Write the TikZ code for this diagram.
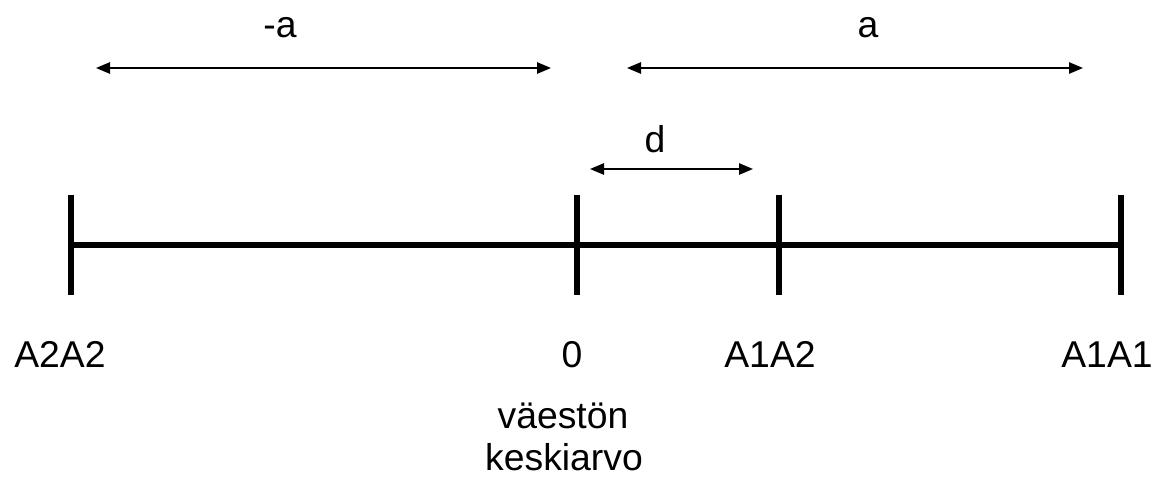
\documentclass[tikz,border=0pt]{standalone}
\usepackage{fontspec}
\setmainfont{Liberation Sans}
\usetikzlibrary{arrows.meta,positioning}

\begin{document}
\begin{tikzpicture}[x=0.75pt,y=-0.75pt,>={Triangle[length=10.5pt,width=8.5pt]}]
	\tikzstyle{axis}=[line width=4.5pt]
	\tikzstyle{tick}=[line width=5pt]
	\tikzstyle{span}=[<->,line width=1.3pt]
	\tikzstyle{lbl}=[font=\fontsize{28}{34}\selectfont,inner sep=0pt,anchor=base]
	\useasboundingbox (0,0) rectangle (1154,479);
	% points on the axis
	\coordinate (G22) at (71,245);
	\coordinate (G0)  at (577,245);
	\coordinate (G12) at (779,245);
	\coordinate (G11) at (1121,245);
	% ends of the spans
	\coordinate (La) at (96,68);
	\coordinate (Lb) at (551,68);
	\coordinate (Ra) at (627,68);
	\coordinate (Rb) at (1083,68);
	\coordinate (Da) at (590,169);
	\coordinate (Db) at (753,169);
	% axis and ticks
	\draw[axis] (G22) -- (G11);
	\foreach \p in {G22,G0,G12,G11}
		\draw[tick] ([yshift=37.5pt]\p) -- ([yshift=-37.5pt]\p);
	% spans
	\draw[span] (La) -- (Lb);
	\draw[span] (Ra) -- (Rb);
	\draw[span] (Da) -- (Db);
	% labels
	\node[lbl] (minusA) at (280,37)  {-a};
	\node[lbl] (plusA)  at (868,37)  {a};
	\node[lbl] (dLbl)   at (655,152) {d};
	\node[lbl] (t22)    at (60,367)  {A2A2};
	\node[lbl] (t0)     at (572,367) {0};
	\node[lbl] (t12)    at (770,367) {A1A2};
	\node[lbl] (t11)    at (1107,367){A1A1};
	\node[lbl] (mean1)  at (563,428) {väestön};
	\node[lbl] (mean2)  at (564,470) {keskiarvo};
\end{tikzpicture}
\end{document}
